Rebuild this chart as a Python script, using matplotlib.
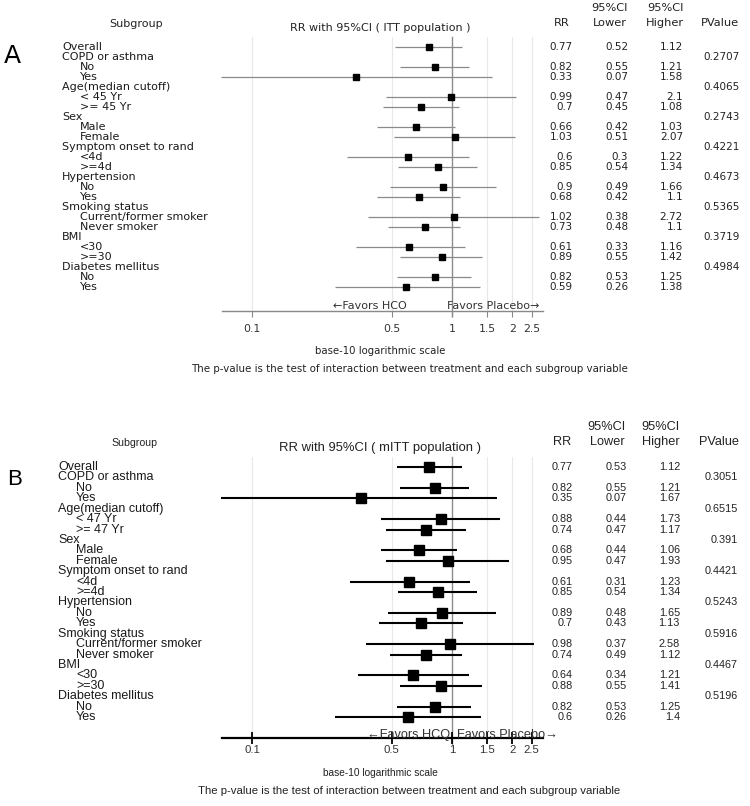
import numpy as np
import matplotlib
matplotlib.use("Agg")
import matplotlib.pyplot as plt
from matplotlib import transforms
from matplotlib.ticker import FixedLocator, NullLocator, FixedFormatter

# ---------------- data ----------------
labels_a = ["Overall", "COPD or asthma", "No", "Yes", "Age(median cutoff)", "< 45 Yr", ">= 45 Yr",
            "Sex", "Male", "Female", "Symptom onset to rand", "<4d", ">=4d", "Hypertension", "No", "Yes",
            "Smoking status", "Current/former smoker", "Never smoker", "BMI", "<30", ">=30",
            "Diabetes mellitus", "No", "Yes"]
labels_b = ["Overall", "COPD or asthma", "No", "Yes", "Age(median cutoff)", "< 47 Yr", ">= 47 Yr",
            "Sex", "Male", "Female", "Symptom onset to rand", "<4d", ">=4d", "Hypertension", "No", "Yes",
            "Smoking status", "Current/former smoker", "Never smoker", "BMI", "<30", ">=30",
            "Diabetes mellitus", "No", "Yes"]
level = [0, 0, 1, 1, 0, 1, 1, 0, 1, 1, 0, 1, 1, 0, 1, 1, 0, 1, 1, 0, 1, 1, 0, 1, 1]

nan = np.nan
rr_a = [0.77, nan, 0.82, 0.33, nan, 0.99, 0.7, nan, 0.66, 1.03, nan, 0.6, 0.85, nan, 0.9, 0.68,
        nan, 1.02, 0.73, nan, 0.61, 0.89, nan, 0.82, 0.59]
lo_a = [0.52, nan, 0.55, 0.07, nan, 0.47, 0.45, nan, 0.42, 0.51, nan, 0.3, 0.54, nan, 0.49, 0.42,
        nan, 0.38, 0.48, nan, 0.33, 0.55, nan, 0.53, 0.26]
hi_a = [1.12, nan, 1.21, 1.58, nan, 2.1, 1.08, nan, 1.03, 2.07, nan, 1.22, 1.34, nan, 1.66, 1.1,
        nan, 2.72, 1.1, nan, 1.16, 1.42, nan, 1.25, 1.38]
p_a = [nan, 0.2707, nan, nan, 0.4065, nan, nan, 0.2743, nan, nan, 0.4221, nan, nan, 0.4673, nan, nan,
       0.5365, nan, nan, 0.3719, nan, nan, 0.4984, nan, nan]

rr_b = [0.77, nan, 0.82, 0.35, nan, 0.88, 0.74, nan, 0.68, 0.95, nan, 0.61, 0.85, nan, 0.89, 0.7,
        nan, 0.98, 0.74, nan, 0.64, 0.88, nan, 0.82, 0.6]
lo_b = [0.53, nan, 0.55, 0.07, nan, 0.44, 0.47, nan, 0.44, 0.47, nan, 0.31, 0.54, nan, 0.48, 0.43,
        nan, 0.37, 0.49, nan, 0.34, 0.55, nan, 0.53, 0.26]
hi_b = [1.12, nan, 1.21, 1.67, nan, 1.73, 1.17, nan, 1.06, 1.93, nan, 1.23, 1.34, nan, 1.65, 1.13,
        nan, 2.58, 1.12, nan, 1.21, 1.41, nan, 1.25, 1.4]
p_b = [nan, 0.3051, nan, nan, 0.6515, nan, nan, 0.391, nan, nan, 0.4421, nan, nan, 0.5243, nan, nan,
       0.5916, nan, nan, 0.4467, nan, nan, 0.5196, nan, nan]

tick_values = [0.1, 0.5, 1, 1.5, 2, 2.5]
tick_labels = ["0.1", "0.5", "1", "1.5", "2", "2.5"]

# ---------------- layout ----------------
W, H = 750, 806
fig = plt.figure(figsize=(W / 100, H / 100), dpi=100)


def fx(px):
    return px / W


def fy(py):
    return 1 - py / H


def fmt(v):
    return f"{v:g}"


def panel(cfg):
    top, axis_y, row0, step = cfg["top"], cfg["axis"], cfg["row0"], cfg["step"]
    ax = fig.add_axes([fx(222), fy(axis_y), fx(543) - fx(222), (axis_y - top) / H])
    ax.set_xscale("log")
    ax.set_xlim(0.0708, 2.85)
    n = len(cfg["labels"])
    ax.set_ylim((axis_y - row0) / step, -(row0 - top) / step)
    for s in ["top", "right", "left"]:
        ax.spines[s].set_visible(False)
    ax.spines["bottom"].set_color(cfg["axcol"])
    ax.spines["bottom"].set_linewidth(cfg["axlw"])
    ax.set_yticks([])
    ax.xaxis.set_major_locator(FixedLocator(tick_values))
    ax.xaxis.set_major_formatter(FixedFormatter(tick_labels))
    ax.xaxis.set_minor_locator(NullLocator())
    ax.tick_params(axis="x", direction=cfg["tickdir"], length=cfg["ticklen"], width=cfg["axlw"] * 0.8,
                   color=cfg["axcol"], pad=cfg["pad"], labelsize=cfg["ticksize"], labelcolor="#333333")
    for lbl in ax.get_xticklabels():
        lbl.set_family(cfg["font"])
    for t in tick_values:
        if t != 1:
            ax.axvline(t, color="#e8e8e8", lw=0.8, zorder=0)
    ax.axvline(1, ymin=-0.02, ymax=1, color="#8c8c8c", lw=1.0, zorder=1, clip_on=False)
    ax.patch.set_alpha(0)

    ys = np.arange(n)
    rr, lo, hi = np.array(cfg["rr"]), np.array(cfg["lo"]), np.array(cfg["hi"])
    m = ~np.isnan(rr)
    ax.hlines(ys[m], lo[m], hi[m], color=cfg["cicol"], lw=cfg["cilw"], zorder=2, clip_on=False)
    ax.plot(rr[m], ys[m], "s", color="black", ms=cfg["ms"], zorder=3, clip_on=False)

    tr = transforms.blended_transform_factory(fig.transFigure, ax.transData)
    font, fs = cfg["font"], cfg["rowsize"]
    for i, lab in enumerate(cfg["labels"]):
        x0 = cfg["labx"] + (18 if level[i] else 0)
        ax.text(fx(x0), i, lab, transform=tr, ha="left", va="center", fontsize=fs, family=font,
                color="#1a1a1a", clip_on=False)
        if m[i]:
            for xr, v in zip(cfg["valx"], (rr[i], lo[i], hi[i])):
                ax.text(fx(xr), i, fmt(v), transform=tr, ha="right", va="center",
                        fontsize=cfg["valsize"], family=font, color="#222222")
        if not np.isnan(cfg["p"][i]):
            ax.text(fx(cfg["px"]), i, fmt(cfg["p"][i]), transform=tr, ha="right", va="center",
                    fontsize=cfg["valsize"], family=font, color="#222222")

    hy = cfg["hy"]
    hf = cfg["hsize"]
    fig.text(fx(cfg["subx"]), fy(hy + 1), "Subgroup", ha="center", va="center", fontsize=cfg["subsize"],
             family=font, color="#222222")
    fig.text(fx(380), fy(hy + cfg["titledy"]), cfg["title"], ha="center", va="center", fontsize=cfg["titlesize"],
             family=font, color="#222222")
    for xc, txt in zip(cfg["hx"], ["RR", "Lower", "Higher", "PValue"]):
        fig.text(fx(xc), fy(hy), txt, ha="center", va="center", fontsize=hf, family=font, color="#222222")
    for xc in cfg["hx"][1:3]:
        fig.text(fx(xc), fy(hy - 15), "95%CI", ha="center", va="center", fontsize=hf, family=font,
                 color="#222222")
    fig.text(fx(cfg["letx"]), fy(cfg["lety"]), cfg["letter"], ha="left", va="center",
             fontsize=cfg["letsize"], family=font, color="black")
    fig.text(fx(cfg["fav_l"]), fy(cfg["favy"]), cfg["favL"], ha="left", va="center",
             fontsize=cfg["favsize"], family=font, color="#333333")
    fig.text(fx(cfg["fav_r"]), fy(cfg["favy"]), "Favors Placebo\u2192", ha="left", va="center",
             fontsize=cfg["favsize"], family=font, color="#333333")
    fig.text(fx(380), fy(cfg["basey"]), "base-10 logarithmic scale", ha="center", va="center",
             fontsize=cfg["basesize"], family=font, color="#222222")
    fig.text(fx(409), fy(cfg["notey"]),
             "The p-value is the test of interaction between treatment and each subgroup variable",
             ha="center", va="center", fontsize=cfg["notesize"], family=font, color="#222222")
    return ax


cfgA = dict(top=37, axis=311, row0=47, step=10.0, labels=labels_a, rr=rr_a, lo=lo_a, hi=hi_a, p=p_a,
            font="DejaVu Sans", rowsize=8, valsize=7.5, labx=62, valx=[573, 628, 683], px=740,
            axcol="#888888", axlw=1.0, tickdir="out", ticklen=4, pad=5, ticksize=7.8, cicol="#8a8a8a",
            cilw=0.9, ms=4.6,
            hy=23, hx=[562, 610, 665, 720], hsize=8.2, subx=136, subsize=8, title="RR with 95%CI ( ITT population )",
            titledy=5, titlesize=8, letter="A", letx=4, lety=56, letsize=18,
            fav_l=333, fav_r=447, favy=306, favL="\u2190Favors HCO", favsize=8, basey=351, basesize=7.3,
            notey=369, notesize=7.4)
cfgB = dict(top=457, axis=738, row0=467, step=10.42, labels=labels_b, rr=rr_b, lo=lo_b, hi=hi_b, p=p_b,
            font="Liberation Sans", rowsize=9, valsize=7.8, labx=58, valx=[573, 627, 680], px=738,
            axcol="black", axlw=1.6, tickdir="inout", ticklen=8, pad=1, ticksize=8.2, cicol="black",
            cilw=1.5, ms=7.5,
            hy=442, hx=[562, 607, 661, 719], hsize=9.2, subx=134, subsize=7.6,
            title="RR with 95%CI ( mITT population )", titledy=6, titlesize=9.4, letter="B", letx=7, lety=480,
            letsize=16, fav_l=367, fav_r=457, favy=735, favL="\u2190Favors HCQ", favsize=9.2, basey=773,
            basesize=7.3, notey=791, notesize=8.2)

panel(cfgA)
panel(cfgB)

fig.savefig("out.png", dpi=100, facecolor="white")
